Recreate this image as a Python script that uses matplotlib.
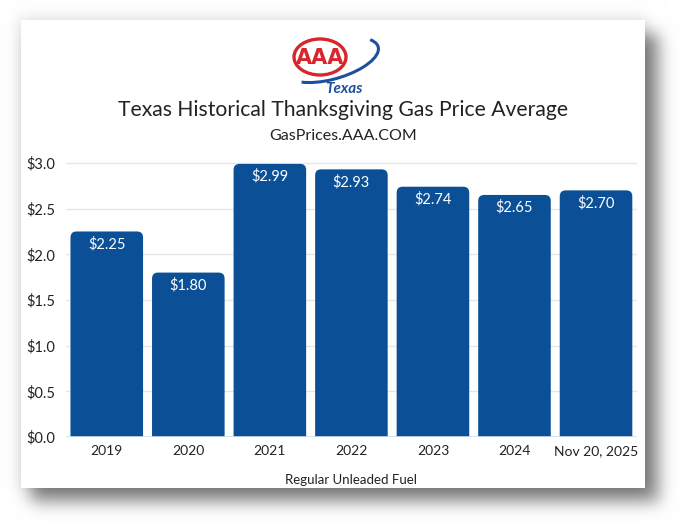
import numpy as np
import matplotlib.pyplot as plt
from matplotlib.patches import Rectangle, FancyBboxPatch, Ellipse, Arc

years = ["2019", "2020", "2021", "2022", "2023", "2024", "Nov 20, 2025"]
prices = [2.25, 1.80, 2.99, 2.93, 2.74, 2.65, 2.70]
price_labels = ["$2.25", "$1.80", "$2.99", "$2.93", "$2.74", "$2.65", "$2.70"]
yticks = [0.0, 0.5, 1.0, 1.5, 2.0, 2.5, 3.0]

plt.rcParams['font.family'] = ['Lato', 'DejaVu Sans']
W, H = 687, 531
fig = plt.figure(figsize=(W / 100, H / 100), dpi=100)
fig.patch.set_facecolor('white')

def fx(px):
    return px / W

def fy(py):
    return 1 - py / H

def blur(a, s):
    k = np.arange(-3 * s, 3 * s + 1)
    g = np.exp(-k ** 2 / (2.0 * s * s))
    g /= g.sum()
    a = np.apply_along_axis(lambda r: np.convolve(r, g, mode='same'), 0, a)
    a = np.apply_along_axis(lambda r: np.convolve(r, g, mode='same'), 1, a)
    return a

# card shadow (blurred image behind the card)
cx0, cy0, cx1, cy1 = 21, 20, 645, 488
sh = np.zeros((H, W))
sh[cy0 + 14:cy1 + 14, cx0 + 10:cx1 + 14] = 0.45
sh = blur(sh, 8)
halo = np.zeros((H, W))
halo[cy0 - 2:cy1 + 2, cx0 - 2:cx1 + 2] = 0.12
halo = blur(halo, 7)
alpha = np.clip(sh + halo, 0, 1)
img = np.ones((H, W, 3)) * (1 - alpha[..., None])
fig.figimage(img, 0, 0, origin='upper', zorder=-3)

# card
fig.patches.append(Rectangle((fx(cx0), fy(cy1)), fx(cx1 - cx0), (cy1 - cy0) / H,
                             transform=fig.transFigure, facecolor='white',
                             edgecolor='none', zorder=-1))

# logo
lax = fig.add_axes([fx(280), fy(100), fx(110), 80 / H])
lax.set_xlim(0, 110)
lax.set_ylim(0, 80)
lax.axis('off')
lax.add_patch(Arc((52, 40), 96, 38, angle=16, theta1=200, theta2=372,
                  color='#1d4f9c', lw=2.2))
lax.add_patch(Ellipse((40, 43), 52, 36, facecolor='white', edgecolor='#d9262c', lw=2.4))
lax.text(40, 42.5, "AAA", color='#d9262c', fontsize=15, fontweight='bold',
         ha='center', va='center', family='DejaVu Sans')
lax.text(64, 11, "Texas", color='#1d4f9c', fontsize=11, fontweight='bold',
         style='italic', ha='center', va='center')

fig.text(0.5, fy(110), "Texas Historical Thanksgiving Gas Price Average",
         ha='center', va='center', fontsize=15.2, color='#222222')
fig.text(0.5, fy(136), "GasPrices.AAA.COM", ha='center', va='center',
         fontsize=11.5, color='#222222')

ax = fig.add_axes([fx(66), fy(437), fx(636.8 - 66), (437 - 158.4) / H])
ax.set_facecolor('none')
x = np.arange(len(years))
bars = ax.bar(x, prices, width=0.89, color='none', zorder=3)

ax.set_xlim(-0.5, len(years) - 0.5)
ax.set_ylim(0, 3.05)
fig.canvas.draw()
bb = ax.get_window_extent()
xpp = (len(years)) / bb.width
ypp = 3.05 / bb.height
r = 6  # px
for b in bars:
    x0, w, h = b.get_x(), b.get_width(), b.get_height()
    # start below zero so the rounded bottom is clipped away
    ax.add_patch(FancyBboxPatch((x0, -0.3), w, h + 0.3,
                                boxstyle="round,pad=0,rounding_size=%f" % (r * xpp),
                                mutation_aspect=ypp / xpp,
                                facecolor='#0b5096', edgecolor='none', zorder=3))

for xi, p, lab in zip(x, prices, price_labels):
    ax.text(xi, p - 0.06, lab, ha='center', va='top', color='white',
            fontsize=10.5, zorder=4)

ax.set_yticks(yticks)
ax.set_yticklabels(["$%.1f" % v for v in yticks])
ax.set_xticks(x)
ax.set_xticklabels(years)
ax.tick_params(length=0, labelsize=10, colors='#222222')
ax.tick_params(axis='y', labelsize=10.5, pad=8)
ax.tick_params(axis='x', pad=6)
ax.grid(axis='y', color='#e6e6e6', lw=1, zorder=0)
ax.set_axisbelow(True)
for s in ax.spines.values():
    s.set_visible(False)
ax.axhline(0, color='#cfe0ee', lw=1.2, zorder=4)
ax.set_xlabel("Regular Unleaded Fuel", fontsize=9.5, color='#222222', labelpad=12)

fig.savefig("out.png", dpi=100)
